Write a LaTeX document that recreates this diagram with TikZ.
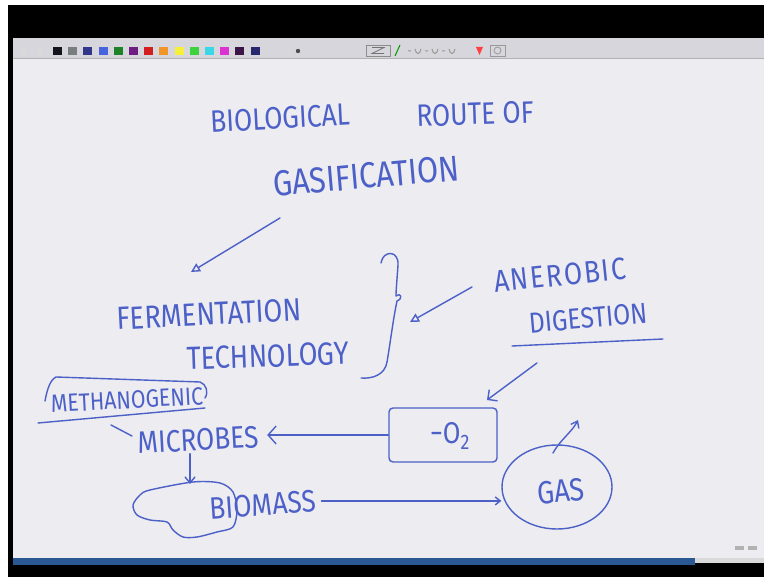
\documentclass[tikz,border=0pt]{standalone}
\usepackage{fontspec}
\newfontfamily\handfont[FakeStretch=0.85]{Fira Sans}
\usepackage{tikz}
\usetikzlibrary{arrows.meta,shapes.geometric}
\definecolor{ink}{RGB}{76,96,200}
\definecolor{board}{RGB}{236,236,241}
\definecolor{toolbar}{RGB}{214,214,220}
\definecolor{taskbar}{RGB}{42,88,146}
\definecolor{tbA}{RGB}{20,20,30}
\definecolor{tbB}{RGB}{120,125,125}
\definecolor{tbC}{RGB}{50,55,140}
\definecolor{tbD}{RGB}{70,100,220}
\definecolor{tbE}{RGB}{30,130,40}
\definecolor{tbF}{RGB}{110,30,130}
\definecolor{tbG}{RGB}{210,30,30}
\definecolor{tbH}{RGB}{240,150,40}
\definecolor{tbI}{RGB}{245,240,60}
\definecolor{tbJ}{RGB}{60,210,60}
\definecolor{tbK}{RGB}{60,215,230}
\definecolor{tbL}{RGB}{220,50,210}
\definecolor{tbM}{RGB}{60,20,70}
\definecolor{tbN}{RGB}{40,40,110}
\tikzset{every picture/.style={line width=1.4pt}}
\newcommand{\handsz}[1]{\handfont\fontsize{#1}{#1}\selectfont}
\tikzstyle{word}=[text=ink,inner sep=2pt]
\tikzstyle{pen}=[draw=ink,line cap=round,line join=round]
\tikzstyle{tri}=[-{Triangle[open,length=9pt,width=9pt]}]

\begin{document}
\begin{tikzpicture}[x=1pt,y=-1pt]
\useasboundingbox (0,0) rectangle (764,577);
% screen frame
\fill[white] (0,0) rectangle (764,577);
\fill[black] (8,5) rectangle (764,577);
\fill[board] (13,58) rectangle (764,558);
\fill[toolbar] (13,38) rectangle (764,58);
\draw[line width=1pt,black!30] (13,58.5) -- (764,58.5);
\fill[black!15] (20,47) rectangle ++(7,8);
\fill[black!15] (37,47) rectangle ++(6,8);
\foreach \c [count=\i from 0] in {tbA,tbB,tbC,tbD,tbE,tbF,tbG,tbH,tbI,tbJ,tbK,tbL,tbM,tbN}
  \fill[\c] (53+15.2*\i,47) rectangle ++(9,8);
\fill[black!70] (298,51) circle (2.2);
\draw[line width=0.8pt,black!45] (366,45) rectangle (390,56);
\draw[line width=0.8pt,black!55] (372,47.5) -- (384,47.5) -- (372,53.5) -- (384,53.5);
\draw[line width=1pt,green!60!black] (395,56) -- (400,45);
\foreach \x in {408,425,442}
  \draw[line width=1pt,black!40] (\x,51) -- ++(3,0) (\x+7,49) .. controls (\x+8,55) and (\x+12,55) .. (\x+13,49);
\fill[red!75] (476,47) -- (483,47) -- (479.5,55) -- cycle;
\draw[line width=0.8pt,black!40] (490,45) rectangle (505,56);
\draw[line width=0.8pt,black!40] (497.5,50.5) circle (3.5);
\fill[taskbar] (13,558) rectangle (695,565);
\fill[white!85!black] (695,558) rectangle (764,563);
\fill[black!30] (735,546) rectangle ++(9,4);
\fill[black!30] (748,546) rectangle ++(9,4);

% texts
\node[word,rotate=3,font=\handsz{31}] (bio) at (280,118) {BIOLOGICAL};
\node[word,rotate=2,font=\handsz{31}] (route) at (475,114) {ROUTE OF};
\node[word,rotate=5,font=\handsz{36}] (gasif) at (366,176) {GASIFICATION};
\node[word,rotate=3,font=\handsz{32}] (ferm) at (209,314) {FERMENTATION};
\node[word,rotate=2,font=\handsz{32}] (tech) at (268,356) {TECHNOLOGY};
\node[word,rotate=6,font=\handsz{31}\addfontfeature{LetterSpace=6}] (anaer) at (560,275) {ANEROBIC};
\node[word,rotate=5,font=\handsz{29}] (dig) at (588,318) {DIGESTION};
\node[word,rotate=3,font=\handsz{25}] (meth) at (127,400) {METHANOGENIC};
\node[word,rotate=3,inner xsep=8pt,font=\handsz{31}] (micro) at (198,440) {MICROBES};
\node[word,rotate=4,inner xsep=5pt,font=\handsz{31}] (biom) at (263,505) {BIOMASS};
\node[pen,draw,rounded corners=4pt,minimum width=108pt,minimum height=54pt] (box) at (443,435) {};
\node[word,font=\handsz{30}] (oxy) at (450,436) {−O\textsubscript{2}};
\node[pen,draw,ellipse,minimum width=110pt,minimum height=84pt] (gas) at (557,487) {};
\node[word,rotate=5,font=\handsz{32}] (gastxt) at (561,491) {GAS};

% hand drawn marks
\draw[pen] (381,263) .. controls (383,250) and (399,250) .. (398,265)
  .. controls (397,280) and (396,290) .. (396,296)
  .. controls (400,292) and (404,298) .. (397,301)
  .. controls (393,320) and (390,345) .. (387,362)
  .. controls (385,375) and (372,379) .. (361,378);
\draw[pen] (45,401) .. controls (47,390) and (50,380) .. (56,377) -- (200,382)
  .. controls (206,384) and (209,392) .. (205,398);
\draw[pen] (38,423) -- (205,408);
\draw[pen] (512,346) -- (663,339);
\draw[pen] plot[smooth cycle] coordinates {(150,490) (193,482) (220,483) (233,492)
  (237,510) (233,527) (217,532) (197,537) (183,537) (173,530) (167,522) (150,520)
  (137,515) (133,505) (140,495)};

% connectors
\coordinate (a1) at (280,218);
\coordinate (a2) at (191,272);
\coordinate (b1) at (472,287);
\coordinate (b2) at (410,322);
\coordinate (c1) at (537,363);
\coordinate (c2) at (487,400);
\coordinate (blobtop) at (190,484);
\coordinate (ticka) at (111,425);
\coordinate (tickb) at (132,436);
\coordinate (gastail) at (553,453);
\coordinate (gashead) at (578,420);
\draw[pen,tri] (a1) -- (a2);
\draw[pen,tri] (b1) -- (b2);
\draw[pen,-{Straight Barb[length=7pt,width=14pt]}] (c1) -- (c2);
\draw[pen,-{Straight Barb[length=8pt,width=18pt]}] (box.west) -- (box.west -| micro.east);
\draw[pen,-{Straight Barb[length=6pt,width=10pt]}] (micro.south -| blobtop) -- (blobtop);
\draw[pen,-{Straight Barb[length=5pt,width=8pt]}] (biom.east) -- (biom.east -| gas.west);
\draw[pen,-{Straight Barb[length=6pt,width=9pt]}] (gastail) .. controls (560,440) and (572,432) .. (gashead);
\draw[pen] (ticka) -- (tickb);
\end{tikzpicture}
\end{document}
